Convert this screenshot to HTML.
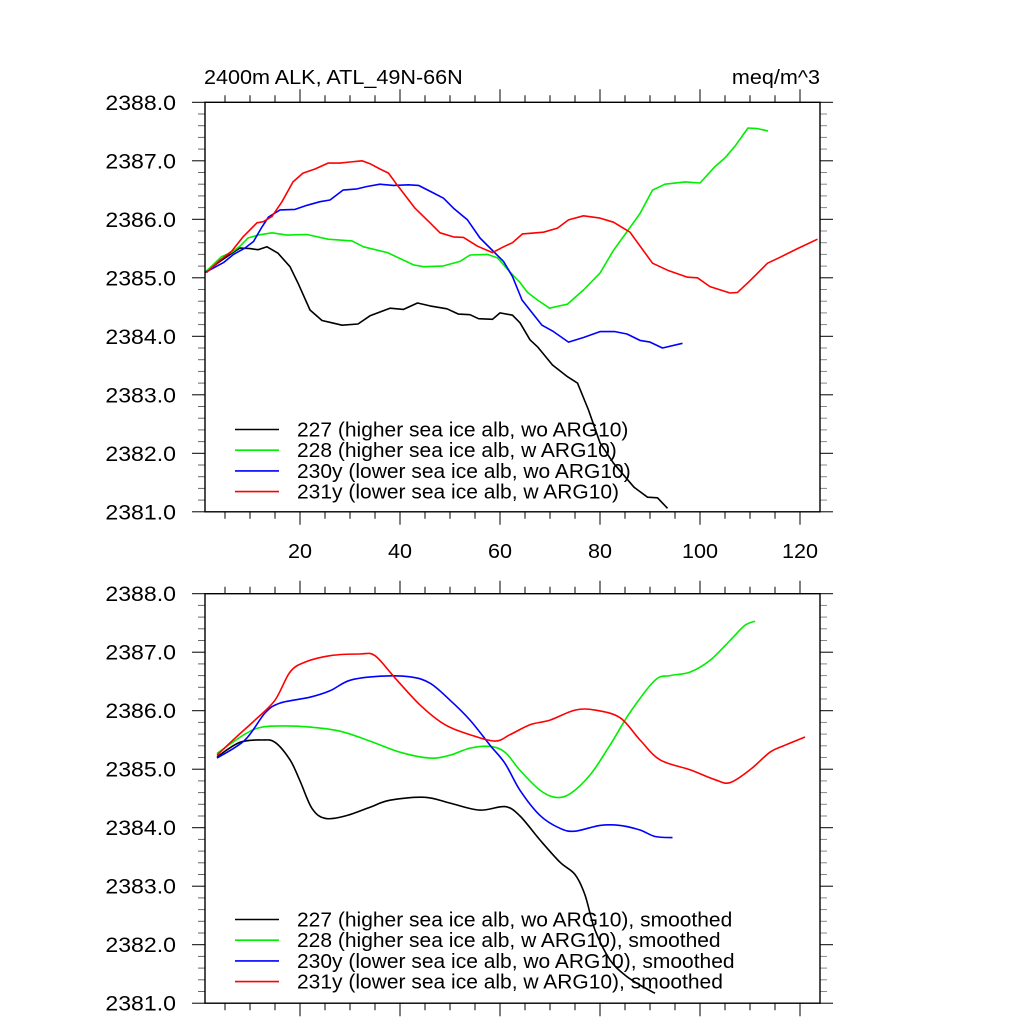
<!DOCTYPE html>
<html><head><meta charset="utf-8"><style>
html,body{margin:0;padding:0;background:#fff;}
svg{display:block;font-family:"Liberation Sans",sans-serif;}
</style></head><body>
<svg id="chart" width="1024" height="1024" viewBox="0 0 1024 1024" xmlns="http://www.w3.org/2000/svg"></svg>
<script>
// ---- data (top panel, raw) ----
const blackX=[1,4,6.4,8,10,11.6,13.4,15.6,18,19.6,22,24.4,26.4,28.4,31.6,34,38,40.7,43.5,46,49.4,51.7,54,55.7,58.5,60,62.5,64,66,67.5,70.5,73.5,75.5,77.7,80,82.7,86.8,89.5,91.5,93.5];
const blackY=[2385.09,2385.28,2385.42,2385.51,2385.5,2385.48,2385.53,2385.42,2385.19,2384.91,2384.45,2384.27,2384.23,2384.19,2384.21,2384.35,2384.48,2384.46,2384.57,2384.52,2384.47,2384.38,2384.37,2384.3,2384.29,2384.4,2384.36,2384.23,2383.94,2383.82,2383.51,2383.31,2383.2,2382.74,2382.18,2381.83,2381.42,2381.25,2381.24,2381.06];
const greenX=[1,4.3,6.4,8,9.6,11.6,14.4,17.4,21.4,25.6,30.4,32.7,37.5,42.7,44.7,48.5,52,54,57.5,59.5,62,64,65.5,67.5,69.9,73.5,76.8,80,82.7,85.5,88,90.5,93,97,100,103,105,107,109.6,111.5,113.6];
const greenY=[2385.09,2385.36,2385.44,2385.54,2385.68,2385.73,2385.77,2385.73,2385.74,2385.66,2385.63,2385.53,2385.43,2385.22,2385.19,2385.2,2385.28,2385.39,2385.4,2385.34,2385.1,2384.92,2384.75,2384.62,2384.48,2384.55,2384.8,2385.08,2385.47,2385.8,2386.1,2386.5,2386.6,2386.64,2386.62,2386.9,2387.05,2387.25,2387.56,2387.55,2387.51];
const blueX=[1,4.7,6.7,9,10.7,12.4,13.7,16,19,21.4,24,26,28.6,31.4,33.4,36,38.7,41.7,43.7,46.7,48.7,50.7,53.5,56,58.7,60.7,62.5,64.4,68.4,70.7,73.7,76.7,80,83,85.4,88,90,92.5,96.5];
const blueY=[2385.09,2385.26,2385.4,2385.51,2385.62,2385.87,2386.04,2386.16,2386.17,2386.24,2386.3,2386.33,2386.5,2386.52,2386.56,2386.6,2386.58,2386.59,2386.58,2386.45,2386.36,2386.19,2385.99,2385.68,2385.45,2385.28,2385.02,2384.62,2384.19,2384.08,2383.9,2383.98,2384.08,2384.08,2384.04,2383.93,2383.9,2383.8,2383.88];
const redX=[1.3,4,6.4,8.6,11.4,12.7,14.4,16.4,18.6,20.6,23,25.6,28,30,32.4,34,36,37.7,39.4,43,46,48,50.7,52.7,55.5,58.5,60.7,62.5,64.5,68.7,71.5,73.7,76.7,80,82.7,86,90.5,93.5,97.5,99.5,102,106,107.5,110,113.5,116,119.5,123.5];
const redY=[2385.09,2385.3,2385.46,2385.7,2385.94,2385.96,2386.05,2386.3,2386.64,2386.79,2386.86,2386.96,2386.96,2386.98,2387.0,2386.95,2386.86,2386.79,2386.59,2386.19,2385.94,2385.77,2385.7,2385.69,2385.54,2385.43,2385.53,2385.6,2385.75,2385.78,2385.85,2385.99,2386.06,2386.02,2385.95,2385.78,2385.25,2385.13,2385.01,2385.0,2384.85,2384.74,2384.75,2384.95,2385.25,2385.35,2385.5,2385.66];
// ---- data (bottom panel, smoothed) ----
const sBlackX=[3.4,8,12.4,15,18,20,22.4,25,29,34,38,45,50,56,61,64,68,72,75,77,79,82,85,88,91];
const sBlackY=[2385.21,2385.46,2385.5,2385.46,2385.16,2384.8,2384.33,2384.16,2384.2,2384.35,2384.47,2384.52,2384.42,2384.3,2384.36,2384.2,2383.79,2383.41,2383.2,2382.85,2382.25,2381.74,2381.48,2381.31,2381.17];
const sGreenX=[3.4,9,12.4,17,22,28,34,40,46,50,54,58,61,64,68,71,74,78,82,86,91,94,98,102,106,109,111];
const sGreenY=[2385.27,2385.6,2385.72,2385.74,2385.72,2385.65,2385.48,2385.29,2385.19,2385.24,2385.36,2385.39,2385.29,2384.98,2384.64,2384.52,2384.58,2384.9,2385.41,2385.97,2386.52,2386.6,2386.66,2386.86,2387.2,2387.46,2387.53];
const sBlueX=[3.4,9,13,16,22,26,30,36,42,46,50,54,58,61,64,68,72,75,80,84,88,91,94.5];
const sBlueY=[2385.19,2385.5,2385.96,2386.13,2386.23,2386.34,2386.52,2386.59,2386.58,2386.47,2386.18,2385.84,2385.41,2385.1,2384.64,2384.21,2383.99,2383.94,2384.04,2384.04,2383.96,2383.85,2383.83];
const sRedX=[3.4,7,11,15,18,21,26,32,35,39,44,49,54,59,62,66,70,75,79,84,88,92,98,103,106,110,114,117,121];
const sRedY=[2385.24,2385.53,2385.84,2386.18,2386.66,2386.83,2386.94,2386.97,2386.94,2386.56,2386.1,2385.76,2385.59,2385.48,2385.59,2385.76,2385.84,2386.01,2386.01,2385.88,2385.5,2385.16,2384.99,2384.82,2384.77,2384.99,2385.29,2385.41,2385.55];
const yTicks=[2381,2382,2383,2384,2385,2386,2387,2388];
const yTickLabels=["2381.0","2382.0","2383.0","2384.0","2385.0","2386.0","2387.0","2388.0"];
const xTicks=[20,40,60,80,100,120];
const xTickLabels=["20","40","60","80","100","120"];
const legendTop=["227 (higher sea ice alb, wo ARG10)","228 (higher sea ice alb, w ARG10)","230y (lower sea ice alb, wo ARG10)","231y (lower sea ice alb, w ARG10)"];
const legendBottom=legendTop.map(s=>s+", smoothed");
const colors=["#000000","#00ee00","#0000ff","#ff0000"];

const NS="http://www.w3.org/2000/svg";
const svg=document.getElementById('chart');
const L=205,R=820,XMIN=1,XMAX=124,YMIN=2381,YMAX=2388;
function mk(tag,attrs,parent){const e=document.createElementNS(NS,tag);for(const k in attrs)e.setAttribute(k,attrs[k]);(parent||svg).appendChild(e);return e;}
function sx(x){return L+(x-XMIN)*(R-L)/(XMAX-XMIN);}
function smoothPath(p){
  let d='M'+p[0][0].toFixed(1)+','+p[0][1].toFixed(1);
  for(let i=0;i<p.length-1;i++){
    const p0=p[i-1]||p[i],p1=p[i],p2=p[i+1],p3=p[i+2]||p2;
    const c1=[p1[0]+(p2[0]-p0[0])/6,p1[1]+(p2[1]-p0[1])/6];
    const c2=[p2[0]-(p3[0]-p1[0])/6,p2[1]-(p3[1]-p1[1])/6];
    d+=' C'+c1[0].toFixed(1)+','+c1[1].toFixed(1)+' '+c2[0].toFixed(1)+','+c2[1].toFixed(1)+' '+p2[0].toFixed(1)+','+p2[1].toFixed(1);
  }
  return d;
}
function stext(parent,x,y,size,sxf,anchor){
  const t=mk('text',{transform:'translate('+x+','+y+') scale('+sxf+',1)','font-size':size,'text-anchor':anchor||'start'},parent);
  return t;
}

function panel(top,bottom,name,series,legend,legendY,showXLabels,smooth){
  const g=mk('g',{});
  
  
  const sy=v=>bottom-(v-YMIN)*(bottom-top)/(YMAX-YMIN);
  for(let v=YMIN;v<=YMAX+1e-6;v+=0.2){
    const y=sy(v);const major=Math.abs(v-Math.round(v))<1e-6;
    const len=major?13:7;
    const t1=mk('line',{x1:L-len,x2:L,y1:y,y2:y,stroke:major?'#000':'#666','stroke-width':1},g);
    
    const t2=mk('line',{x1:R,x2:R+len,y1:y,y2:y,stroke:major?'#000':'#888','stroke-width':1},g);
    
  }
  for(let x=5;x<=XMAX;x+=5){
    const px=sx(x);const major=x%20===0;const len=major?13:7;
    const a=mk('line',{x1:px,x2:px,y1:top-len,y2:top,stroke:'#000','stroke-width':1},g);
    
    const b=mk('line',{x1:px,x2:px,y1:bottom,y2:bottom+len,stroke:'#000','stroke-width':1},g);
    
  }
  yTicks.forEach((v,i)=>{
    const t=stext(g,176,sy(v)+7.5,21,1.1,'end');
    
    t.textContent=yTickLabels[i];
  });
  if(showXLabels){xTicks.forEach((v,i)=>{
    const t=stext(g,sx(v),bottom+46,20,1.08,'middle');
    
    t.textContent=xTickLabels[i];
  });}
  const clip='clip'+name;
  const cp=mk('clipPath',{id:clip},g);mk('rect',{x:L,y:top,width:R-L,height:bottom-top},cp);
  series.forEach((s,i)=>{
    const pts=s[0].map((x,j)=>[sx(x),sy(s[1][j])]);
    let p;
    if(smooth){p=mk('path',{d:smoothPath(pts),fill:'none',stroke:colors[i],'stroke-width':1.6,'clip-path':'url(#'+clip+')'},g);}
    else{p=mk('polyline',{points:pts.map(q=>q[0].toFixed(1)+','+q[1].toFixed(1)).join(' '),fill:'none',stroke:colors[i],'stroke-width':1.6,'stroke-linejoin':'round','clip-path':'url(#'+clip+')'},g);}
    
    
  });
  const fr=mk('rect',{x:L,y:top,width:R-L,height:bottom-top,fill:'none',stroke:'#000','stroke-width':1.4},g);
  
  legend.forEach((txt,i)=>{
    const y=legendY+i*20.7;
    const ln=mk('line',{x1:235,x2:279,y1:y,y2:y,stroke:colors[i],'stroke-width':1.6},g);
    
    const t=stext(g,297,y+7,20,1.05);
    
    t.textContent=txt;
  });
}
panel(102.3,511.8,'top-panel',[[blackX,blackY],[greenX,greenY],[blueX,blueY],[redX,redY]],legendTop,429.5,true,false);
panel(593.7,1003.2,'bottom-panel',[[sBlackX,sBlackY],[sGreenX,sGreenY],[sBlueX,sBlueY],[sRedX,sRedY]],legendBottom,919.5,false,true);
const t1=stext(svg,204,84,20,1.08);


t1.textContent='2400m ALK, ATL_49N-66N';
const t2=stext(svg,820,84,20,1.08,'end');


t2.textContent='meq/m^3';
</script>
</body></html>
